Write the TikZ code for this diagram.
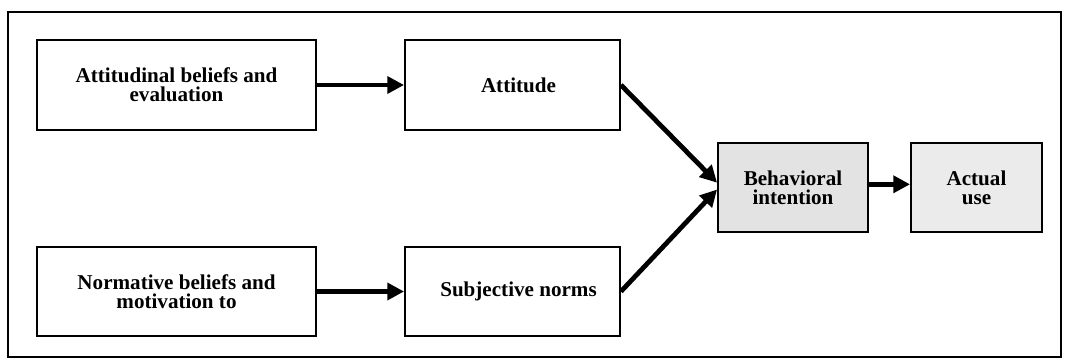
\documentclass[tikz,border=0pt]{standalone}
\usepackage{fontspec}
\setmainfont{Liberation Serif}
\usetikzlibrary{arrows.meta}

\tikzset{
  stage/.style={draw=black, line width=1.3pt, fill=white, align=center,
    font=\bfseries\fontsize{15}{13.5}\selectfont, inner sep=2pt},
  greystage/.style={stage, fill=black!11},
  flow/.style={line width=3.4pt, -{Triangle[length=0.42cm,width=0.42cm]}, shorten >=0pt},
}

\begin{document}
\begin{tikzpicture}[x=0.025cm, y=-0.025cm]
  \useasboundingbox (0,0) rectangle (1080,360);
  \fill[white] (0,0) rectangle (1080,360);

  % surrounding frame
  \draw[line width=1.6pt] (8,12) rectangle (1061,357);

  % boxes
  \node[stage, minimum width=6.975cm, minimum height=2.25cm] (beliefs) at (176.5,85)
    {Attitudinal beliefs and\\evaluation};
  \node[stage, minimum width=5.375cm, minimum height=2.25cm] (attitude) at (512.5,85)
    {\hspace*{0.3cm}Attitude};
  \node[stage, minimum width=6.975cm, minimum height=2.225cm] (normative) at (176.5,291.5)
    {Normative beliefs and\\motivation to};
  \node[stage, minimum width=5.375cm, minimum height=2.225cm] (norms) at (512.5,291.5)
    {\hspace*{0.3cm}Subjective norms};
  \node[greystage, minimum width=3.75cm, minimum height=2.225cm] (intention) at (793,187.5)
    {Behavioral\\intention};
  \node[greystage, fill=black!8, minimum width=3.275cm, minimum height=2.225cm] (use) at (976.5,187.5)
    {Actual\\use};

  % connectors
  \draw[flow] (beliefs.east) -- (attitude.west);
  \draw[flow] (normative.east) -- (norms.west);
  \draw[flow] (attitude.east) -- ([yshift=0.12cm]intention.west);
  \draw[flow] (norms.east) -- ([yshift=-0.05cm]intention.west);
  \draw[flow] ([yshift=0.08cm]intention.east) -- ([yshift=0.08cm]use.west);
\end{tikzpicture}
\end{document}
